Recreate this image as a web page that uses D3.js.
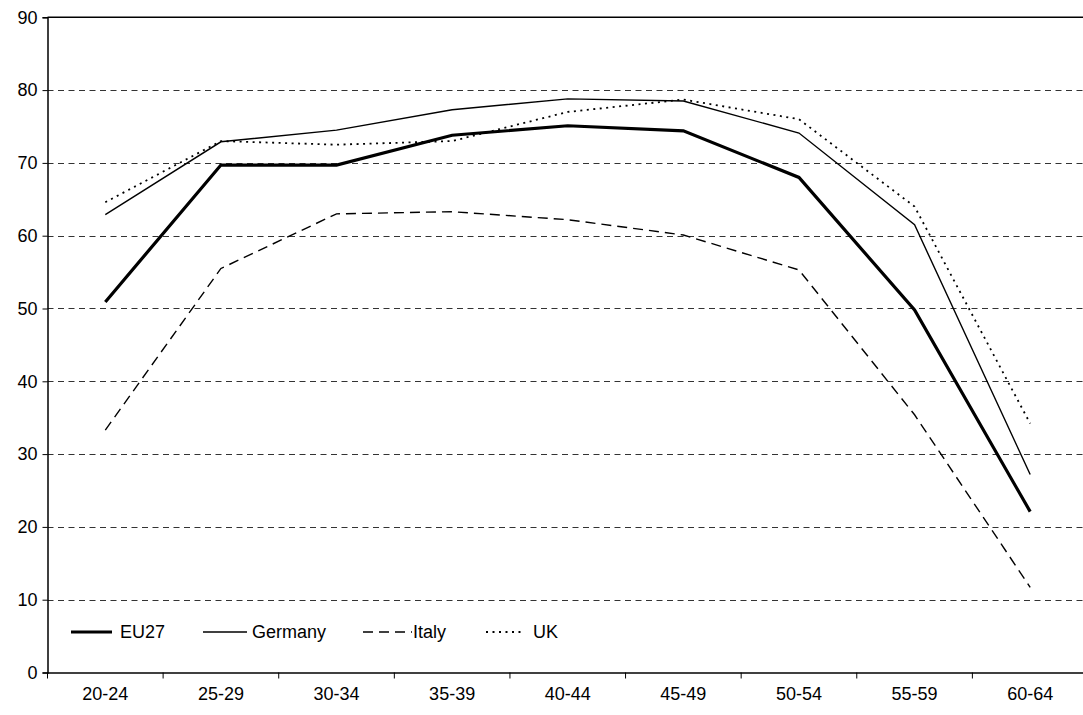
<!DOCTYPE html>
<html>
<head>
<meta charset="utf-8">
<script src="https://cdn.jsdelivr.net/npm/d3@7"></script>
<style>
  html, body { margin: 0; padding: 0; background: #fff; overflow: hidden; }
  svg { display: block; font-family: "Liberation Sans", Arial, sans-serif; }
</style>
</head>
<body>
<svg id="chart" width="1083" height="715"></svg>
<script>
const categories = ["20-24","25-29","30-34","35-39","40-44","45-49","50-54","55-59","60-64"];
const eu27    = [50.9, 69.7, 69.7, 73.8, 75.1, 74.4, 68.0, 49.8, 22.1];
const germany = [62.9, 72.9, 74.5, 77.3, 78.8, 78.5, 74.1, 61.5, 27.2];
const italy   = [33.3, 55.5, 63.0, 63.3, 62.2, 60.1, 55.3, 35.4, 11.7];
const uk      = [64.6, 73.0, 72.5, 73.0, 77.0, 78.7, 76.0, 64.0, 34.2];
const yTicks  = [0, 10, 20, 30, 40, 50, 60, 70, 80, 90];
const seriesNames = ["EU27", "Germany", "Italy", "UK"];

(function () {
const series = [
  { name: seriesNames[0], values: eu27,    width: 3.2, dash: null },
  { name: seriesNames[1], values: germany, width: 1.4, dash: null },
  { name: seriesNames[2], values: italy,   width: 1.4, dash: "10,6" },
  { name: seriesNames[3], values: uk,      width: 1.8, dash: "2,4.5" }
];

const svg = d3.select("#chart");
const mLeft = 47.5, mRight = 1088, mTop = 17.3, mBottom = 672.5;

const x = d3.scaleBand().domain(categories).range([mLeft, mRight]).padding(0);
const y = d3.scaleLinear().domain([0, 90]).range([mBottom, mTop]);

// gridlines
svg.append("g").selectAll("line")
  .data(yTicks.filter(d => d > 0 && d < 90))
  .join("line")
  .attr("x1", mLeft).attr("x2", mRight)
  .attr("y1", d => Math.round(y(d)) + 0.5).attr("y2", d => Math.round(y(d)) + 0.5)
  .attr("stroke", "#333").attr("stroke-width", 1)
  .attr("stroke-dasharray", "6,4.5");

// top border
svg.append("line")
  .attr("x1", mLeft).attr("x2", mRight)
  .attr("y1", y(90)).attr("y2", y(90))
  .attr("stroke", "#000").attr("stroke-width", 1.5);

// y axis
const yAxis = svg.append("g")
  .attr("transform", `translate(${mLeft},0)`)
  .call(d3.axisLeft(y).tickValues(yTicks).tickSize(5).tickPadding(5).tickFormat(d3.format("d")));
yAxis.select(".domain").attr("stroke", "#000").attr("stroke-width", 1.5);
yAxis.selectAll(".tick line").attr("stroke", "#000");
yAxis.selectAll("text").attr("font-size", "18px").attr("fill", "#000")
  .attr("font-family", "Liberation Sans, Arial, sans-serif");

// x axis
const xAxis = svg.append("g")
  .attr("transform", `translate(0,${mBottom})`)
  .call(d3.axisBottom(x).tickSize(0).tickPadding(15));
xAxis.select(".domain").attr("stroke", "#000").attr("stroke-width", 1.5);
xAxis.selectAll("text").attr("font-size", "18px").attr("fill", "#000")
  .attr("font-family", "Liberation Sans, Arial, sans-serif");
// tick marks at band boundaries
svg.append("g").selectAll("line")
  .data(categories)
  .join("line")
  .attr("x1", d => x(d)).attr("x2", d => x(d))
  .attr("y1", mBottom).attr("y2", mBottom + 6)
  .attr("stroke", "#000").attr("stroke-width", 1);

// lines
const line = d3.line()
  .x((d, i) => x(categories[i]) + x.bandwidth() / 2)
  .y(d => y(d));

series.forEach(s => {
  const p = svg.append("path")
    .datum(s.values)
    .attr("d", line)
    .attr("fill", "none")
    .attr("stroke", "#000")
    .attr("stroke-width", s.width)
    .attr("stroke-linejoin", "miter");
  if (s.dash) p.attr("stroke-dasharray", s.dash);
});

// legend
const legendY = 632;
const legendItems = [
  { s: series[0], x1: 71,  x2: 112, tx: 120 },
  { s: series[1], x1: 203, x2: 247, tx: 252 },
  { s: series[2], x1: 363, x2: 412, tx: 413 },
  { s: series[3], x1: 486, x2: 524, tx: 533 }
];
const lg = svg.append("g");
legendItems.forEach(it => {
  const l = lg.append("line")
    .attr("x1", it.x1).attr("x2", it.x2)
    .attr("y1", legendY).attr("y2", legendY)
    .attr("stroke", "#000").attr("stroke-width", it.s.width);
  if (it.s.dash) l.attr("stroke-dasharray", it.s.dash);
  lg.append("text")
    .attr("x", it.tx).attr("y", legendY)
    .attr("dy", "0.35em")
    .attr("font-size", "18px")
    .attr("fill", "#000")
    .text(it.s.name);
});
})();
</script>
</body>
</html>
